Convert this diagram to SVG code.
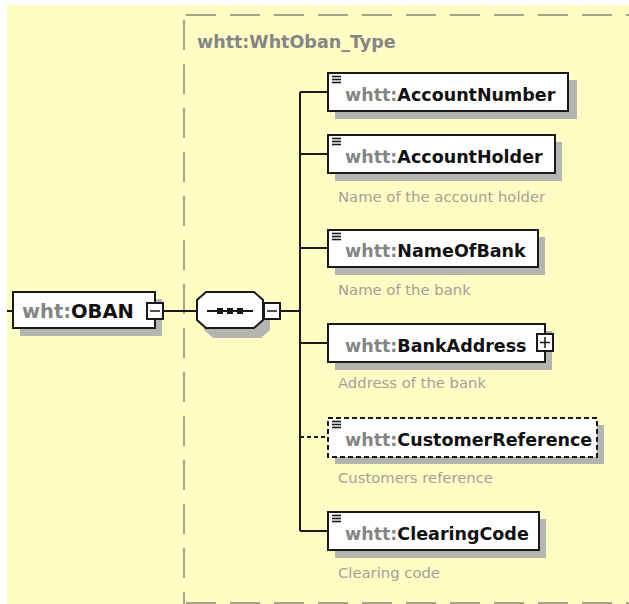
<svg xmlns="http://www.w3.org/2000/svg" width="629" height="604" viewBox="0 0 629 604">
<defs>
<style>
.bg{fill:#FFFCC4}
.frame{fill:none;stroke:#A8A488;stroke-width:2;stroke-dasharray:30 14}
.box{fill:#FFFFFF;stroke:#1A1A1A;stroke-width:2}
.dbox{fill:#FFFFFF;stroke:#1A1A1A;stroke-width:2;stroke-dasharray:5 3}
.shadow{fill:#B4B4B0}
.ln{fill:none;stroke:#1A1A1A;stroke-width:2}
.sym{fill:none;stroke:#1A1A1A;stroke-width:1.5}
.dln{fill:none;stroke:#1A1A1A;stroke-width:2;stroke-dasharray:4 3}
.name{font-family:"DejaVu Sans","Liberation Sans",sans-serif;font-weight:bold;font-size:17.5px;fill:#111111}
.big{font-size:19.5px}
.pre{fill:#858585}
.desc{font-family:"DejaVu Sans","Liberation Sans",sans-serif;font-size:14.8px;fill:#A2A298}
.title{font-family:"DejaVu Sans","Liberation Sans",sans-serif;font-weight:bold;font-size:17.5px;fill:#858585}
.icon{stroke:#1A1A1A;stroke-width:1.6}
.sq{fill:#1A1A1A}
</style>
<g id="ico"><line class="icon" x1="332" y1="76.5" x2="341" y2="76.5"/><line class="icon" x1="332" y1="79.5" x2="341" y2="79.5"/><line class="icon" x1="332" y1="82.5" x2="341" y2="82.5"/></g>
</defs>
<rect x="0" y="0" width="629" height="604" fill="#FFFFFF"/>
<rect class="bg" x="7" y="5" width="622" height="599"/>

<g id="frame">
<line class="frame" x1="184" y1="20" x2="184" y2="604"/>
<line class="frame" x1="186" y1="15" x2="629" y2="15"/>
<line class="frame" x1="186" y1="603" x2="629" y2="603"/>
<text class="title" x="197" y="48">whtt:WhtOban_Type</text>
</g>

<g id="connectors">
<line class="ln" x1="7" y1="311" x2="13" y2="311"/>
<line class="ln" x1="163" y1="311" x2="197" y2="311"/>
<line class="ln" x1="280" y1="311" x2="300" y2="311"/>
<line class="ln" x1="300" y1="92" x2="300" y2="531"/>
<line class="ln" x1="300" y1="92" x2="328" y2="92"/>
<line class="ln" x1="300" y1="154" x2="328" y2="154"/>
<line class="ln" x1="300" y1="248" x2="328" y2="248"/>
<line class="ln" x1="300" y1="343" x2="328" y2="343"/>
<line class="dln" x1="300" y1="437" x2="328" y2="437"/>
<line class="ln" x1="300" y1="531" x2="328" y2="531"/>
</g>

<g id="OBAN">
<rect class="shadow" x="20" y="299" width="142" height="37"/>
<rect class="box" x="13" y="292" width="142" height="36"/>
<text class="name big" x="22" y="318"><tspan class="pre">wht:</tspan>OBAN</text>
<rect class="box" x="147" y="303" width="16" height="16"/>
<line class="sym" x1="150" y1="311" x2="160" y2="311"/>
</g>

<g id="sequence">
<polygon class="shadow" points="213,299 261,299 270,307 270,330 261,338 213,338 204,330 204,307"/>
<polygon class="box" points="206,292 254,292 263,300 263,320 254,328 206,328 197,320 197,300"/>
<line class="ln" x1="207" y1="311" x2="253" y2="311"/>
<rect class="sq" x="217" y="308" width="6" height="6"/>
<rect class="sq" x="227" y="308" width="6" height="6"/>
<rect class="sq" x="237" y="308" width="6" height="6"/>
<rect class="box" x="264" y="303" width="16" height="16"/>
<line class="sym" x1="267" y1="311" x2="277" y2="311"/>
</g>

<g id="AccountNumber">
<rect class="shadow" x="335" y="80" width="242" height="39"/>
<rect class="box" x="328" y="73" width="240" height="38"/>
<use href="#ico"/>
<text class="name" x="345" y="101"><tspan class="pre">whtt:</tspan>AccountNumber</text>
</g>

<g id="AccountHolder">
<rect class="shadow" x="335" y="142" width="227" height="39"/>
<rect class="box" x="328" y="135" width="227" height="38"/>
<use href="#ico" y="62"/>
<text class="name" x="345" y="163"><tspan class="pre">whtt:</tspan>AccountHolder</text>
<text class="desc" x="338" y="202">Name of the account holder</text>
</g>

<g id="NameOfBank">
<rect class="shadow" x="335" y="237" width="210" height="38"/>
<rect class="box" x="328" y="230" width="210" height="37"/>
<use href="#ico" y="157"/>
<text class="name" x="345" y="257"><tspan class="pre">whtt:</tspan>NameOfBank</text>
<text class="desc" x="338" y="295">Name of the bank</text>
</g>

<g id="BankAddress">
<rect class="shadow" x="335" y="331" width="217" height="39"/>
<rect class="box" x="328" y="324" width="217" height="38"/>
<text class="name" x="345" y="352"><tspan class="pre">whtt:</tspan>BankAddress</text>
<rect class="box" x="537" y="334" width="16" height="17"/>
<line class="sym" x1="540" y1="342.5" x2="550" y2="342.5"/>
<line class="sym" x1="545" y1="337" x2="545" y2="348"/>
<text class="desc" x="338" y="388">Address of the bank</text>
</g>

<g id="CustomerReference">
<rect class="shadow" x="335" y="425" width="269" height="39"/>
<rect class="dbox" x="328" y="418" width="269" height="39"/>
<use href="#ico" y="345"/>
<text class="name" x="345" y="446"><tspan class="pre">whtt:</tspan>CustomerReference</text>
<text class="desc" x="338" y="483">Customers reference</text>
</g>

<g id="ClearingCode">
<rect class="shadow" x="335" y="519" width="211" height="39"/>
<rect class="box" x="328" y="512" width="211" height="38"/>
<use href="#ico" y="439"/>
<text class="name" x="345" y="540"><tspan class="pre">whtt:</tspan>ClearingCode</text>
<text class="desc" x="338" y="578">Clearing code</text>
</g>
</svg>
